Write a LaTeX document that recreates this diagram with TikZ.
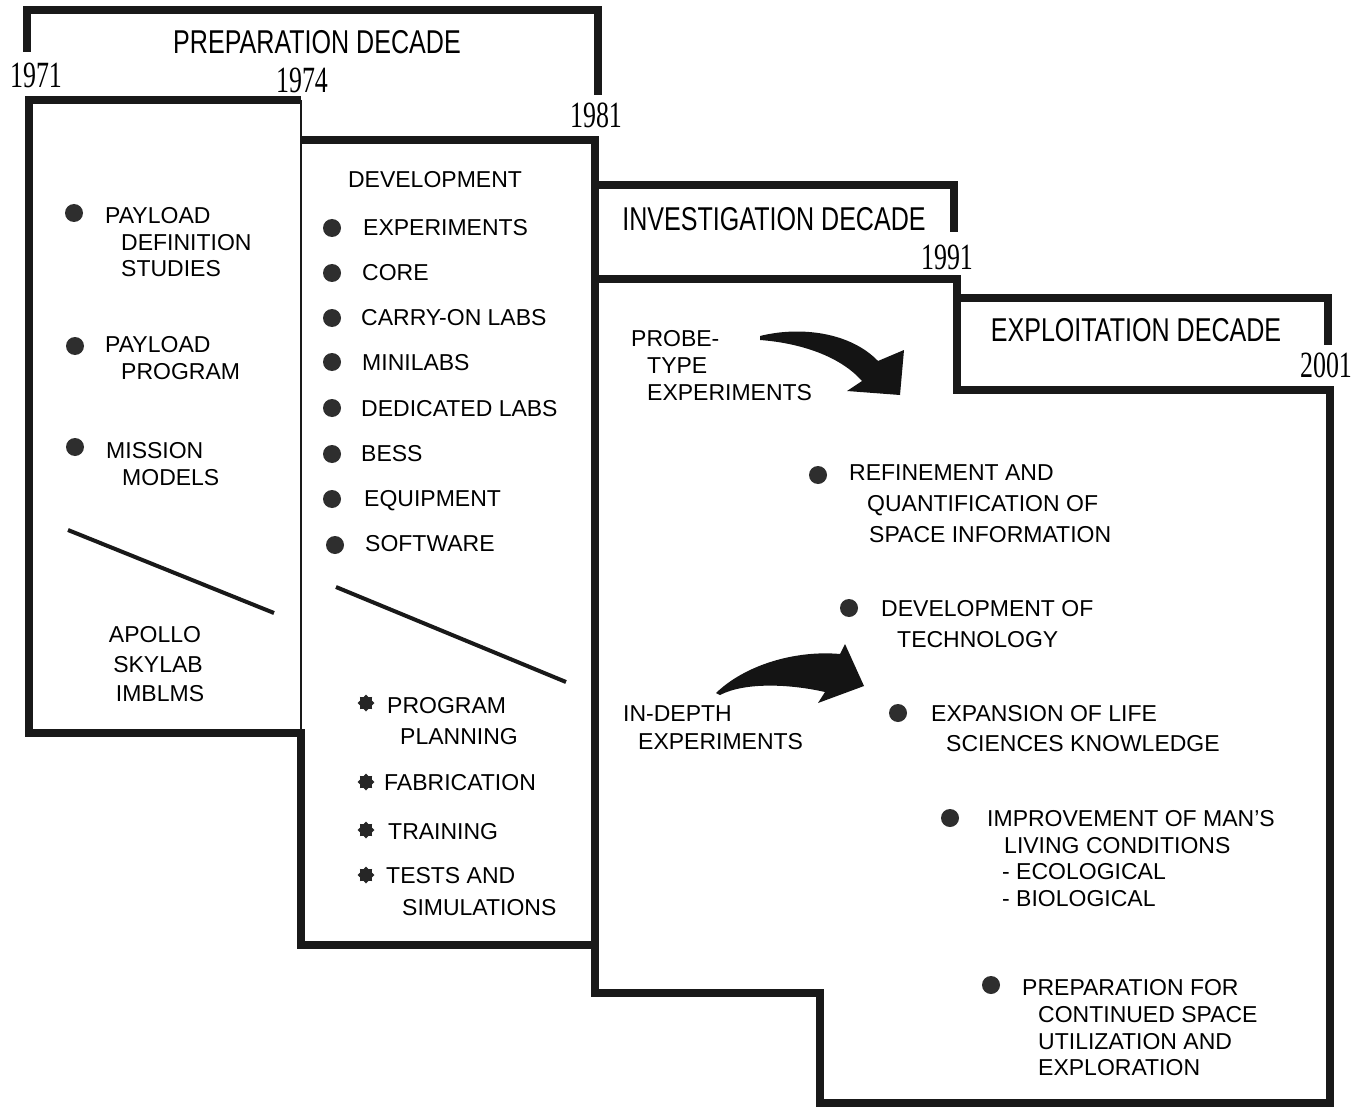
\documentclass[tikz,border=0pt]{standalone}
\usepackage{fontspec}
\usepackage{graphicx}
\setmainfont{Liberation Sans}
\newfontfamily\yearfont{Liberation Serif}
\usetikzlibrary{shapes.geometric}
\newcommand\hdrtext[1]{\scalebox{0.76}[1]{#1}}
\newcommand\yeartext[1]{{\yearfont\scalebox{0.7}[1]{#1}}}
\begin{document}
\begin{tikzpicture}[x=1pt,y=-1pt,
  outline/.style={line width=7.5pt, draw=black!90, line join=miter},
  thinline/.style={line width=2.8pt, draw=black!90},
  item/.style={anchor=west, inner sep=0pt, font=\fontsize{23}{23}\selectfont, text height=16.5pt, text depth=0pt},
  citem/.style={item, anchor=center},
  hdr/.style={inner sep=0pt, font=\fontsize{33}{33}\selectfont, text height=23.6pt, text depth=0pt},
  yr/.style={inner sep=0pt, font=\fontsize{37}{37}\selectfont, text height=25pt, text depth=0pt},
  dot/.style={circle, fill=black!82, minimum size=18pt, inner sep=0pt},
  gear/.style={star, star points=8, star point ratio=1.35, fill=black!85, minimum size=17pt, inner sep=0pt},
  fatarrow/.style={fill=black!92, draw=none},
  diag/.style={line width=4pt, draw=black!90}]
\useasboundingbox (0,0) rectangle (1354,1107);
\fill[white] (0,0) rectangle (1354,1107);

% ---- outlines ----
\draw[outline] (27,52) -- (27,10) -- (598,10) -- (598,95);
\draw[outline] (301,100) -- (29,100) -- (29,733) -- (301,733) -- (301,945) -- (595,945);
\draw[thinline] (301,100) -- (301,733);
\draw[outline] (301,140) -- (595,140) -- (595,993) -- (820,993) -- (820,1103) -- (1330,1103) -- (1330,386);
\draw[outline] (595,185) -- (954,185) -- (954,232);
\draw[outline] (595,279) -- (957,279) -- (957,390) -- (1330,390);
\draw[outline] (957,298) -- (1328,298) -- (1328,345);

% ---- headers and years ----
\node[hdr] (hprep) at (317,42) {\hdrtext{PREPARATION DECADE}};
\node[hdr] (hinv) at (774,219) {\hdrtext{INVESTIGATION DECADE}};
\node[hdr] (hexp) at (1136,330) {\hdrtext{EXPLOITATION DECADE}};
\node[yr] (y1971) at (36,75) {\yeartext{1971}};
\node[yr] (y1974) at (302,80) {\yeartext{1974}};
\node[yr] (y1981) at (596,115) {\yeartext{1981}};
\node[yr] (y1991) at (947,257) {\yeartext{1991}};
\node[yr] (y2001) at (1326,365) {\yeartext{2001}};

% ---- box 1 ----
\node[dot] (d11) at (74,213) {};
\node[item] (a1) at (105,215) {PAYLOAD};
\node[item] (a2) at (121,242) {DEFINITION};
\node[item] (a3) at (121,268) {STUDIES};
\node[dot] (d12) at (75,346) {};
\node[item] (a4) at (105,344) {PAYLOAD};
\node[item] (a5) at (121,371) {PROGRAM};
\node[dot] (d13) at (75,447) {};
\node[item] (a6) at (106,450) {MISSION};
\node[item] (a7) at (122,477) {MODELS};
\draw[diag] (68,530) -- (274,613);
\node[citem] (a8) at (155,634) {APOLLO};
\node[citem] (a9) at (158,664) {SKYLAB};
\node[citem] (a10) at (160,693) {IMBLMS};

% ---- box 2 ----
\node[citem] (dev) at (435,179) {DEVELOPMENT};
\node[dot] (d21) at (332,228) {};
\node[item] (b1) at (363,227) {EXPERIMENTS};
\node[dot] (d22) at (332,273) {};
\node[item] (b2) at (362,272) {CORE};
\node[dot] (d23) at (332,318) {};
\node[item] (b3) at (361,317) {CARRY-ON LABS};
\node[dot] (d24) at (332,362) {};
\node[item] (b4) at (362,362) {MINILABS};
\node[dot] (d25) at (332,408) {};
\node[item] (b5) at (361,408) {DEDICATED LABS};
\node[dot] (d26) at (332,454) {};
\node[item] (b6) at (361,453) {BESS};
\node[dot] (d27) at (332,499) {};
\node[item] (b7) at (364,498) {EQUIPMENT};
\node[dot] (d28) at (335,545) {};
\node[item] (b8) at (365,543) {SOFTWARE};
\draw[diag] (336,587) -- (566,682);
\node[gear] (s1) at (366,703) {};
\node[item] (c1) at (387,705) {PROGRAM};
\node[item] (c2) at (400,736) {PLANNING};
\node[gear] (s2) at (366,782) {};
\node[item] (c3) at (384,782) {FABRICATION};
\node[gear] (s3) at (366,830) {};
\node[item] (c4) at (388,831) {TRAINING};
\node[gear] (s4) at (366,875) {};
\node[item] (c5) at (386,875) {TESTS AND};
\node[item] (c6) at (402,907) {SIMULATIONS};

% ---- box 3/4 ----
\node[item] (p1) at (631,338) {PROBE-};
\node[item] (p2) at (647,365) {TYPE};
\node[item] (p3) at (647,392) {EXPERIMENTS};
\fill[fatarrow] (760,336) .. controls (800,326) and (850,332) .. (878,361)
  -- (904,350) -- (900,395) -- (847,391) -- (862,381)
  .. controls (840,356) and (800,343) .. (760,340) -- cycle;
\node[item] (q1) at (623,713) {IN-DEPTH};
\node[item] (q2) at (638,741) {EXPERIMENTS};
\fill[fatarrow] (716,693) .. controls (745,665) and (795,650) .. (840,654)
  -- (845,644) -- (864,686) -- (818,703) -- (825,692)
  .. controls (790,684) and (745,682) .. (720,695) -- cycle;

\node[dot] (d31) at (818,475) {};
\node[item] (r1) at (849,472) {REFINEMENT AND};
\node[item] (r2) at (867,503) {QUANTIFICATION OF};
\node[item] (r3) at (869,534) {SPACE INFORMATION};
\node[dot] (d32) at (849,608) {};
\node[item] (r4) at (881,608) {DEVELOPMENT OF};
\node[item] (r5) at (897,639) {TECHNOLOGY};
\node[dot] (d33) at (898,713) {};
\node[item] (r6) at (931,713) {EXPANSION OF LIFE};
\node[item] (r7) at (946,743) {SCIENCES KNOWLEDGE};
\node[dot] (d34) at (950,818) {};
\node[item] (r8) at (987,818) {IMPROVEMENT OF MAN'S};
\node[item] (r9) at (1004,845) {LIVING CONDITIONS};
\node[item] (r10) at (1002,871) {- ECOLOGICAL};
\node[item] (r11) at (1002,898) {- BIOLOGICAL};
\node[dot] (d35) at (991,985) {};
\node[item] (r12) at (1022,987) {PREPARATION FOR};
\node[item] (r13) at (1038,1014) {CONTINUED SPACE};
\node[item] (r14) at (1038,1041) {UTILIZATION AND};
\node[item] (r15) at (1038,1067) {EXPLORATION};
\end{tikzpicture}
\end{document}
